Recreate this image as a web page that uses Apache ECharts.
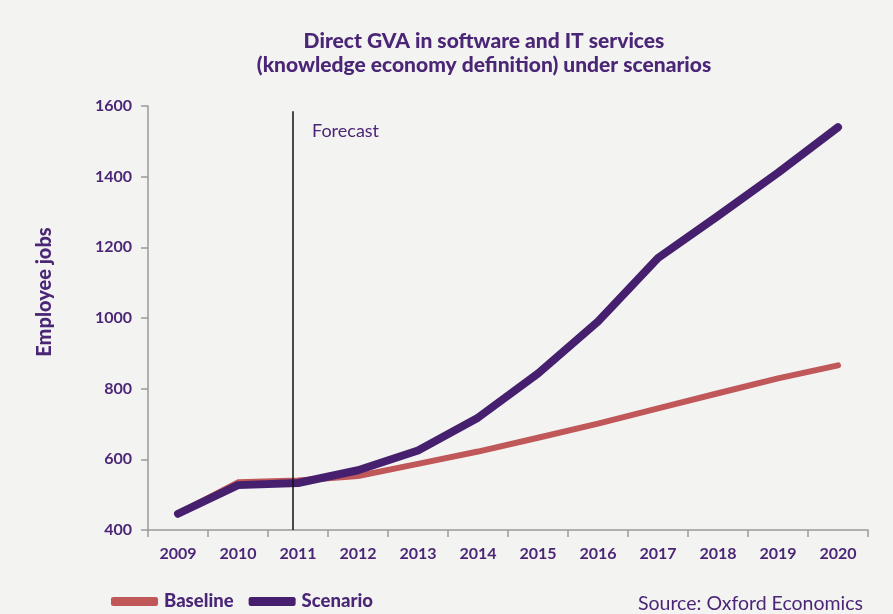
<!DOCTYPE html>
<html><head><meta charset="utf-8">
<script src="https://cdn.jsdelivr.net/npm/echarts@6/dist/echarts.min.js"></script>
<style>html,body{margin:0;padding:0;background:#f3f3f1}#c{width:893px;height:614px}</style>
</head><body><div id="c"></div>
<script>
const years = ['2009','2010','2011','2012','2013','2014','2015','2016','2017','2018','2019','2020'];
const baseline = [446, 535, 540, 553, 587, 622, 661, 701, 744, 787, 829, 866];
const scenario = [446, 527, 533, 569, 625, 718, 843, 990, 1170, 1289, 1411, 1540];
const yTicks = [400, 600, 800, 1000, 1200, 1400, 1600];
const forecastPos = 2.42;

const purple = '#46206e';
const textPurple = '#4b2676';
const red = '#c0585a';
const chart = echarts.init(document.getElementById('c'));
chart.setOption({
  backgroundColor: '#f3f3f1',
  animation: false,
  title: [{
    text: 'Direct GVA in software and IT services\n(knowledge economy definition) under scenarios',
    left: 479, top: 24, textAlign: 'center',
    textStyle: {fontFamily: 'Lato', fontWeight: 900, fontSize: 21, color: textPurple, lineHeight: 24}
  }, {
    text: 'Forecast', left: 307, top: 117,
    textStyle: {fontFamily: 'Lato', fontWeight: 'normal', fontSize: 18, color: textPurple}
  }, {
    text: 'Source: Oxford Economics', right: 25, top: 589,
    textStyle: {fontFamily: 'Lato', fontWeight: 'normal', fontSize: 19.5, color: textPurple}
  }],
  graphic: [{
    type: 'text', x: 45, y: 292, rotation: Math.PI / 2,
    style: {text: 'Employee jobs', align: 'center', verticalAlign: 'middle',
      font: '900 20px Lato', fill: textPurple}
  }],
  legend: {
    left: 106, top: 587, itemGap: 15, itemWidth: 47, itemHeight: 9,
    icon: 'roundRect',
    textStyle: {fontFamily: 'Lato', fontWeight: 900, fontSize: 18.5, color: textPurple, padding: [0,0,0,1]},
    data: ['Baseline', 'Scenario']
  },
  grid: {left: 148, right: 25, top: 106, bottom: 84},
  xAxis: [{
    type: 'category', data: years, boundaryGap: true,
    axisLine: {lineStyle: {color: '#9a9a9a', width: 1.5}},
    axisTick: {show: true, length: 7, lineStyle: {color: '#9a9a9a', width: 1.5}},
    axisLabel: {fontFamily: 'Lato', fontWeight: 'bold', fontSize: 16, color: textPurple, margin: 16}
  }, {
    type: 'value', min: 0, max: 12, show: false
  }],
  yAxis: {
    type: 'value', min: 400, max: 1600, interval: 200,
    axisLine: {show: true, lineStyle: {color: '#9a9a9a', width: 1.5}},
    axisTick: {show: true, length: 7, lineStyle: {color: '#9a9a9a', width: 1.5}},
    splitLine: {show: false},
    axisLabel: {fontFamily: 'Lato', fontWeight: 'bold', fontSize: 16, color: textPurple, margin: 16,
      formatter: v => yTicks.includes(v) ? String(v) : ''}
  },
  series: [{
    name: 'Baseline', type: 'line', data: baseline, symbol: 'none',
    color: red,
    lineStyle: {color: red, width: 6, cap: 'round', join: 'round'}
  }, {
    name: 'Scenario', type: 'line', data: scenario, symbol: 'none',
    color: purple,
    lineStyle: {color: purple, width: 8, cap: 'round', join: 'round'}
  }, {
    name: 'forecast', type: 'line', xAxisIndex: 1, data: [],
    markLine: {
      silent: true, symbol: 'none', label: {show: false},
      lineStyle: {color: '#111', width: 1.5, type: 'solid'},
      data: [[{coord: [forecastPos, 1585]}, {coord: [forecastPos, 400]}]]
    }
  }]
});
</script></body></html>
